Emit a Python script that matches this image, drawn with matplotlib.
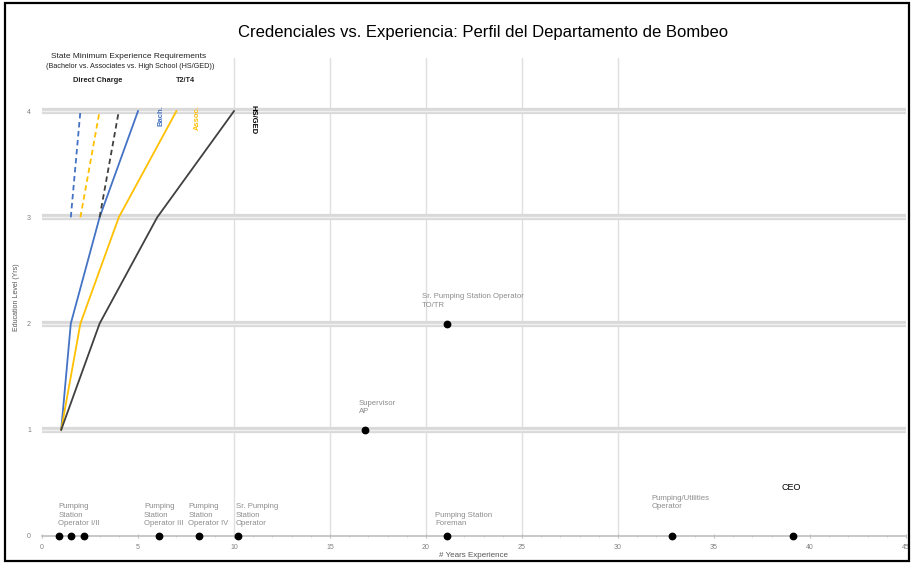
import matplotlib
matplotlib.use("Agg")
import matplotlib.pyplot as plt
from matplotlib.patches import Rectangle
from matplotlib.ticker import MultipleLocator

plt.rcParams['font.family'] = ['Liberation Sans', 'DejaVu Sans']

# ---------------- data ----------------
title = "Credenciales vs. Experiencia: Perfil del Departamento de Bombeo"

edu_levels = [1, 2, 3, 4]
bach_years = [1, 1.5, 3, 5]
assoc_years = [1, 2, 4, 7]
hs_years = [1, 3, 6, 10]

dc_levels = [3, 4]
bach_dc_years = [1.5, 2]
assoc_dc_years = [2, 3]
hs_dc_years = [3, 4]

staff_years = [0.9, 1.5, 2.2, 6.1, 8.2, 10.2, 21.1, 32.8, 39.1, 16.8, 21.1]
staff_edu = [0, 0, 0, 0, 0, 0, 0, 0, 0, 1, 2]
staff_labels = ["Pumping\nStation\nOperator I/II", "", "",
                "Pumping\nStation\nOperator III",
                "Pumping\nStation\nOperator IV",
                "Sr. Pumping\nStation\nOperator",
                "Pumping Station\nForeman",
                "Pumping/Utilities\nOperator",
                "CEO",
                "Supervisor\nAP",
                "Sr. Pumping Station Operator\nTO/TR"]

x_ticks = [0, 5, 10, 15, 20, 25, 30, 35, 40, 45]
y_ticks = [0, 1, 2, 3, 4]
grid_x = [10, 15, 20, 25, 30]

# ---------------- figure ----------------
fig = plt.figure(figsize=(9.11, 5.64), dpi=100)
ax = fig.add_axes([42/911, 28/564, 864/911, 478/564])
ax.set_xlim(0, 45)
ax.set_ylim(0, 4.5)

for gx in grid_x:
    ax.axvline(gx, color='#E0E0E0', lw=1.0, zorder=0)
for gy in y_ticks[1:]:
    ax.axhline(gy, color='#D9D9D9', lw=4.5, zorder=0)
    ax.axhline(gy, color='#F0F0F0', lw=1.0, zorder=0)

blue = '#4472C4'
yellow = '#FFC000'
dark = '#404040'

ax.plot(bach_years, edu_levels, color=blue, lw=1.3, zorder=3)
ax.plot(assoc_years, edu_levels, color=yellow, lw=1.3, zorder=3)
ax.plot(hs_years, edu_levels, color=dark, lw=1.3, zorder=3)
ax.plot(bach_dc_years, dc_levels, color=blue, lw=1.3, ls=(0, (3, 2)), zorder=3)
ax.plot(assoc_dc_years, dc_levels, color=yellow, lw=1.3, ls=(0, (3, 2)), zorder=3)
ax.plot(hs_dc_years, dc_levels, color=dark, lw=1.3, ls=(0, (3, 2)), zorder=3)

ax.plot(staff_years, staff_edu, 'o', color='black', ms=4.6, zorder=4, clip_on=False)

label_offsets = [(-1, 9), (0, 0), (0, 0), (-15, 9), (-11, 9), (-2, 9),
                 (-12, 9), (-20, 26), (-11, 44), (-6, 15), (-25, 15)]
for x, y, lab, off in zip(staff_years, staff_edu, staff_labels, label_offsets):
    if not lab:
        continue
    if lab == "CEO":
        ax.annotate(lab, (x, y), xytext=off, textcoords='offset pixels',
                    fontsize=6.5, color='black', ha='left', va='bottom')
    else:
        ax.annotate(lab, (x, y), xytext=off, textcoords='offset pixels',
                    fontsize=5.6, color='#8C8C8C', ha='left', va='bottom',
                    linespacing=1.25)

# series labels at top of requirement lines
ax.text(6.2, 3.96, "Bach.", rotation=90, color=blue, fontsize=5.5,
        ha='center', va='center', fontweight='bold')
ax.text(8.07, 3.94, "Assoc.", rotation=90, color=yellow, fontsize=5.5,
        ha='center', va='center', fontweight='bold')
ax.text(11.0, 3.92, "HS/GED", rotation=270, color='black', fontsize=5.5,
        ha='center', va='center', fontweight='bold')

ax.text(4.53, 4.51, "State Minimum Experience Requirements", fontsize=6,
        ha='center', va='center', color='#222222', clip_on=False)
ax.text(4.58, 4.42, "(Bachelor vs. Associates vs. High School (HS/GED))",
        fontsize=5.2, ha='center', va='center', color='#222222',
        clip_on=False)
ax.text(2.92, 4.29, "Direct Charge", fontsize=5.4, ha='center', va='center',
        color='#222222', fontweight='bold', clip_on=False)
ax.text(7.45, 4.29, "T2/T4", fontsize=5.2, ha='center', va='center',
        color='#222222', fontweight='bold', clip_on=False)

# axes styling
for s in ['top', 'right', 'left']:
    ax.spines[s].set_visible(False)
ax.spines['bottom'].set_color('#BFBFBF')
ax.spines['bottom'].set_linewidth(1.2)
ax.set_xticks(x_ticks)
ax.set_yticks(y_ticks)
ax.xaxis.set_minor_locator(MultipleLocator(1))
ax.tick_params(axis='x', which='major', length=3, direction='inout',
               color='#BFBFBF', labelsize=5, labelcolor='#808080', pad=4)
ax.tick_params(axis='x', which='minor', length=2, direction='inout',
               color='#BFBFBF')
ax.tick_params(axis='y', length=0, labelsize=5, labelcolor='#808080', pad=8)
ax.set_xlabel("# Years Experience", fontsize=5.8, color='#555555', labelpad=1)
ax.set_ylabel("Education Level (Yrs)", fontsize=5, color='#555555', labelpad=5)

fig.text(483/911, 1 - 33/564, title, ha='center', va='center', fontsize=12,
         color='black')

fig.patches.append(Rectangle((5/911, 3/564), 904/911, 558/564,
                             transform=fig.transFigure, fill=False,
                             edgecolor='black', lw=1.6))

fig.savefig("out.png", dpi=100)
